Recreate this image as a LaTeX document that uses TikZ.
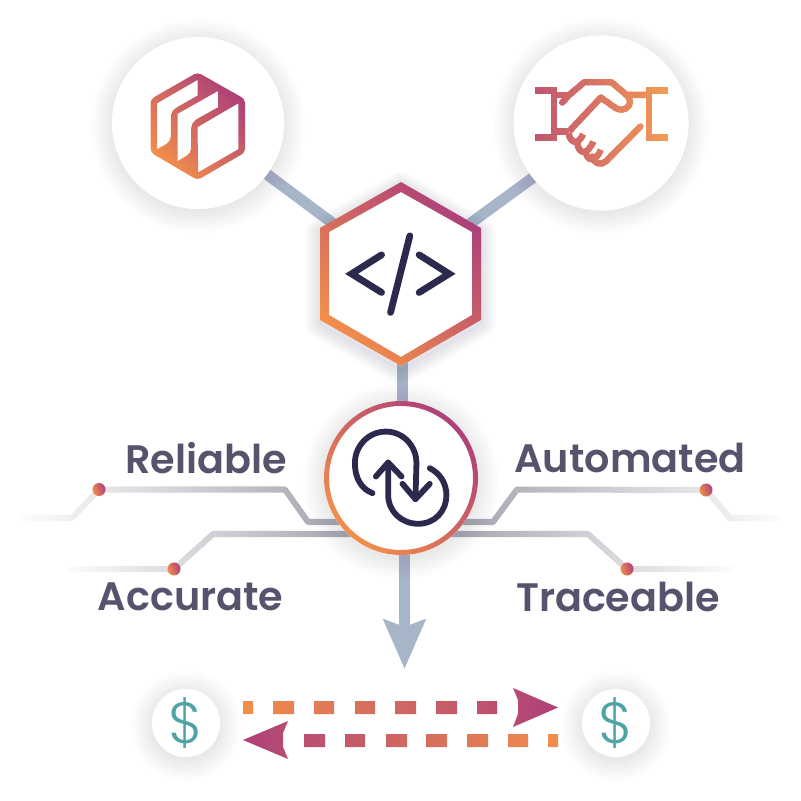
\documentclass[tikz,border=0pt]{standalone}
\usepackage{fontspec}
\setmainfont{Poppins}[BoldFont=Poppins SemiBold]
\newfontfamily\dollarfont{Poppins Light}
\usetikzlibrary{arrows.meta}
\usetikzlibrary{backgrounds}
\usetikzlibrary{fadings}
\usetikzlibrary{shapes.geometric}
\definecolor{warm}{HTML}{F28E4B}
\definecolor{cool}{HTML}{AD4079}
\definecolor{handleft}{HTML}{BF5471}
\definecolor{handright}{HTML}{F89F52}
\definecolor{ink}{HTML}{2B2A4C}
\definecolor{wordgray}{HTML}{55546C}
\definecolor{steel}{HTML}{A7B5C8}
\definecolor{rail}{HTML}{A8A8B3}
\definecolor{teal}{HTML}{4FA5A5}
\tikzset{
  glow/.style={bottom color=warm,top color=cool,shading angle=-45},
  bigcircle/.style={circle,fill=white,inner sep=0pt},
  stem/.style={line width=0.11cm,color=steel},
  railwire/.style={line width=0.06cm,color=rail,line join=round},
  raildot/.style={circle,minimum size=0.13cm,inner sep=0pt,bottom color=warm,top color=cool,shading angle=-70},
  word/.style={font=\fontsize{11.3pt}{12pt}\selectfont\bfseries,text=wordgray,inner sep=0pt},
  paycircle/.style={bigcircle,minimum size=0.68cm,text=teal,font=\fontsize{16.5pt}{17pt}\dollarfont},
  iconline/.style={color=ink,line width=0.068cm,line cap=round,line join=round},
  flowline/.style={iconline,line width=0.058cm},
}
\tikzfading[name=railfadeleft,left color=transparent!0,right color=transparent!100]
\tikzfading[name=railfaderight,left color=transparent!100,right color=transparent!0]
\newcommand{\handstrokes}{
\draw (105,182)--(172,182);
\draw (105,323)--(172,323);
\draw (162,182)--(162,323);
\draw (162,195)--(208,195);
\draw (162,305)--(207,305);
\draw [line cap=round] (187,218)--(208,195)--(253,157)--(335,157)--(380,195)--(440,195);
\draw (440,182)--(505,182);
\draw (440,323)--(505,323);
\draw (447,182)--(447,323);
\draw (447,305)--(438,305);
\draw (207,305)--(303,203)--(348,235) .. controls (370,246) and (392,235) .. (390,212) .. controls (389,205) and (385,200) .. (380,195);
\draw [line cap=round] (422,290)--(318,395) .. controls (303,408) and (282,402) .. (278,380);
\draw (207,310) .. controls (208,335) and (232,352) .. (250,313);
\draw (232,340) .. controls (236,372) and (262,380) .. (280,335);
\draw (258,368) .. controls (262,395) and (288,398) .. (303,360);
}
\begin{document}
\begin{tikzpicture}[x=0.01cm,y=-0.01cm]
\useasboundingbox (0,0) rectangle (801,801);
\node (repo) [bigcircle,minimum size=1.72cm] at (198,123) {};
\node (hand) [bigcircle,minimum size=1.75cm] at (601,123) {};
\node (code) [regular polygon,regular polygon sides=6,shape border rotate=30,minimum size=1.84cm,inner sep=0pt,fill=white] at (401,274) {};
\node (flow) [bigcircle,minimum size=1.54cm] at (401,478) {};
\node (reliabledot) [raildot] at (99,489.5) {};
\node (accuratedot) [raildot] at (174,569) {};
\node (automateddot) [raildot] at (706,490) {};
\node (traceabledot) [raildot] at (627,569) {};
\node (payer) [paycircle] at (186,723) {\$};
\node (payee) [paycircle] at (616,723) {\$};
\node (reliable) [word] at (206,458) {Reliable};
\node (automated) [word] at (630,458) {Automated};
\node (accurate) [word] at (190.5,597) {Accurate};
\node (traceable) [word] at (618,597) {Traceable};
\coordinate (outtip) at (404.5,669);
\coordinate (reliableend) at (20,518);
\coordinate (accurateend) at (68,569);
\coordinate (automatedend) at (782,518);
\coordinate (traceableend) at (733,569);
\begin{scope}[on background layer]
\fill [white] (0,0) rectangle (801,801);
\draw [railwire] (reliableend)--(72,518)--(reliabledot.center)--(285,489.5)--(308,522)--(flow.center |- 308,522);
\draw [railwire] (accurateend)--(accuratedot.center)--(213,534)--(flow.center |- 213,534);
\draw [railwire] (automatedend)--(730,518)--(automateddot.center)--(517,489.5)--(493,522)--(flow.center |- 493,522);
\draw [railwire] (traceableend)--(traceabledot.center)--(588,534)--(flow.center |- 588,534);
\fill [white,path fading=railfadeleft] (15,478) rectangle (335,528);
\fill [white,path fading=railfadeleft] (60,528) rectangle (345,580);
\fill [white,path fading=railfaderight] (470,478) rectangle (790,528);
\fill [white,path fading=railfaderight] (460,528) rectangle (740,580);
\draw [stem] (repo.center)--(code.center);
\draw [stem] ([yshift=-0.05cm]hand.center)--(code.center);
\draw [stem] ([xshift=0.015cm]code.center)--([xshift=0.015cm]flow.center);
\draw [stem,-{Stealth[length=0.49cm,width=0.41cm,inset=0.07cm]}] (outtip |- flow.center)--(outtip);
% soft shadows
\foreach \name/\rad in {repo/86,hand/87,flow/77,payer/34,payee/34}
  \foreach \grow in {1,3,...,21}
    \fill [ink,opacity=0.009] (\name.center) ++(0,3) circle ({\rad+\grow});
\foreach \grow in {2,5,...,29}
  \draw [ink,opacity=0.01,line join=round,line width=\grow*0.01cm] (320,232)--(401,186)--(481,232)--(481,324)--(401,370)--(320,324)--cycle;
\end{scope}
% rings
\shade [glow,even odd rule] (401,182)--(481,228)--(481,320)--(401,366)--(320,320)--(320,228)--cycle
  (401,192)--(472,232)--(472,315)--(401,357)--(329,315)--(329,232)--cycle;
\shade [glow,even odd rule] (flow.center) circle (77) (flow.center) circle (72);
% repo icon
\begin{scope}[shift={(100,30)},x=0.00333cm,y=-0.00333cm]
\shade [glow,even odd rule] [rounded corners=0.04cm] (293,127)--(436,208)--(436,368)--(293,451)--(152,368)--(152,208)--cycle
  [sharp corners] (172,220)--(293,150)--(293,197)--(232,232)
  [rounded corners=0.05cm] --(213,245)--(213,335) [sharp corners] --(172,358)--cycle
  (233,252)--(355,183)--(355,232)--(294,266)
  [rounded corners=0.05cm] --(274,279)--(274,370) [sharp corners] --(233,394)--cycle
  (293,292)--(416,220)--(416,358)--(295,428)--cycle;
\end{scope}
% hand icon
\begin{scope}[shift={(500,30)},x=0.00333cm,y=-0.00333cm,line width=0.064cm,line join=round]
\foreach \p in {0,5,...,95}{
  \pgfmathsetmacro{\xa}{90+\p*4.3}
  \pgfmathsetmacro{\xb}{90+(\p+6)*4.3}
  \begin{scope}
  \clip (\xa,130) rectangle (\xb,430);
  \begin{scope}[color=handright!\p!handleft]
  \handstrokes
  \end{scope}
  \end{scope}
}
\end{scope}
% code icon
\begin{scope}[shift={(300,170)},x=0.00333cm,y=-0.00333cm]
\draw [iconline,miter limit=10,line join=miter] (245,255)--(155,312)--(245,368);
\draw [iconline] (330,198)--(272,428);
\draw [iconline,line join=miter] (358,255)--(448,312)--(358,368);
\end{scope}
% flow icon
\begin{scope}[shift={(280,380)},x=0.00333cm,y=-0.00333cm]
\draw [flowline] (278,340) .. controls (245,328) and (225,295) .. (225,250) .. controls (225,198) and (266,155) .. (318,155) .. controls (370,155) and (410,198) .. (410,250)--(407,358);
\draw [flowline] (368,312)--(407,358)--(450,312);
\draw [flowline] (288,290)--(325,248)--(365,290);
\draw [flowline] (325,248)--(325,345) .. controls (325,395) and (365,432) .. (415,432) .. controls (465,432) and (500,395) .. (500,345) .. controls (500,310) and (480,280) .. (450,265);
\end{scope}
% payment arrows
\shade [bottom color=warm,top color=cool,shading angle=-90]
  foreach \a/\b in {243/253,273/294,314/334,355/375,395/416,436/457,477/497} {(\a,701) rectangle (\b,714)}
  (513,688)--(558,707.5)--(513,727)--(518,714)--(518,700)--cycle;
\shade [bottom color=warm,top color=cool,shading angle=90]
  foreach \a/\b in {548/558,508/528,467/488,426/447,386/407,345/365,304/325} {(\a,734) rectangle (\b,747)}
  (288,721)--(243,740)--(288,759)--(283,747)--(283,733)--cycle;
\end{tikzpicture}
\end{document}
